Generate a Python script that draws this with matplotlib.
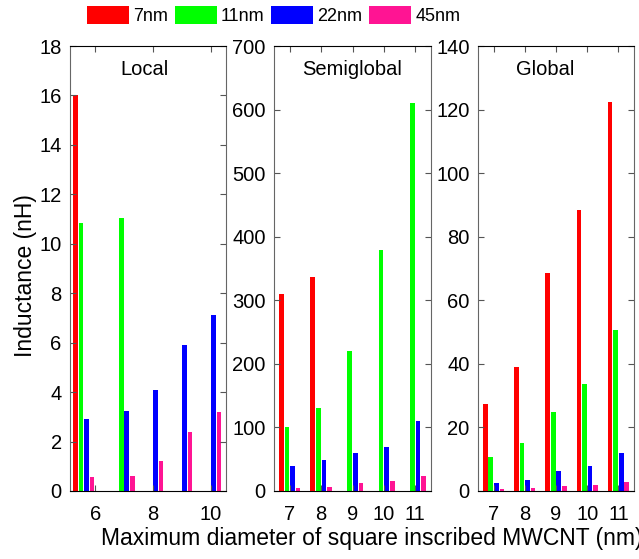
import numpy as np
import matplotlib.pyplot as plt
from matplotlib.patches import Patch

plt.rcParams['font.family'] = ['Liberation Sans', 'DejaVu Sans']

# technology nodes (legend) and their bar colours
nodes = ['7nm', '11nm', '22nm', '45nm']
colors = ['#FF0000', '#00FF00', '#0000FF', '#FF1493']

# local interconnect, inductance in nH
x_local = [5.6, 7, 8, 9, 10]
local_7nm = [16.0, 0, 0, 0, 0]
local_11nm = [10.85, 11.05, 0, 0, 0]
local_22nm = [2.93, 3.22, 4.1, 5.9, 7.1]
local_45nm = [0.56, 0.6, 1.2, 2.4, 3.2]

# semiglobal and global interconnect, inductance in nH
x_wide = [7, 8, 9, 10, 11]
semi_7nm = [310, 336, 0, 0, 0]
semi_11nm = [101, 130, 221, 379, 610]
semi_22nm = [40, 48, 59, 68.5, 110]
semi_45nm = [4.5, 6.5, 12.5, 16.5, 23]

glob_7nm = [27.3, 39, 68.6, 88.5, 122.5]
glob_11nm = [10.7, 15, 25, 33.8, 50.6]
glob_22nm = [2.6, 3.6, 6.4, 8.0, 12.1]
glob_45nm = [0.5, 0.85, 1.5, 1.9, 2.95]

W, H = 639, 559
fig = plt.figure(figsize=(W / 100, H / 100), dpi=100)

panels = [
    dict(rect=[70, 68, 156, 445], x=x_local,
         series=[local_7nm, local_11nm, local_22nm, local_45nm],
         xlim=(5.13, 10.53), ylim=(0, 18), yticks=np.arange(0, 19, 2),
         xticks=[6, 8, 10], step=0.19, width=0.16,
         title='Local', tx=0.478),
    dict(rect=[274, 68, 157, 445], x=x_wide,
         series=[semi_7nm, semi_11nm, semi_22nm, semi_45nm],
         xlim=(6.5, 11.5), ylim=(0, 700), yticks=np.arange(0, 701, 100),
         xticks=x_wide, step=0.178, width=0.15,
         title='Semiglobal', tx=0.5),
    dict(rect=[478, 68, 156, 445], x=x_wide,
         series=[glob_7nm, glob_11nm, glob_22nm, glob_45nm],
         xlim=(6.5, 11.5), ylim=(0, 140), yticks=np.arange(0, 141, 20),
         xticks=x_wide, step=0.178, width=0.15,
         title='Global', tx=0.43),
]

for p in panels:
    l, b, w, h = p['rect']
    ax = fig.add_axes([l / W, b / H, w / W, h / H])
    xs = np.array(p['x'], dtype=float)
    for i, (vals, c) in enumerate(zip(p['series'], colors)):
        ax.bar(xs + (i - 1.5) * p['step'], vals, width=p['width'],
               color=c, linewidth=0)
    ax.set_xlim(*p['xlim'])
    ax.set_ylim(*p['ylim'])
    ax.set_xticks(p['xticks'])
    ax.set_yticks(p['yticks'])
    ax.tick_params(direction='in', length=4, width=0.8, color='#555555',
                   top=True, right=True, labelsize=14.5)
    ax.tick_params(axis='x', pad=10)
    ax.tick_params(axis='y', pad=6)
    for side in ['left', 'right']:
        ax.spines[side].set_color('#666666')
    for side in ['top', 'bottom']:
        ax.spines[side].set_color('black')
    ax.text(p['tx'], 0.948, p['title'], transform=ax.transAxes,
            ha='center', va='center', fontsize=14.5)

handles = [Patch(facecolor=c, edgecolor='none') for c in colors]
fig.legend(handles, nodes, loc='center', bbox_to_anchor=(0.428, 0.972),
           ncol=4, frameon=False, fontsize=13, handlelength=2.33,
           handleheight=1.17, handletextpad=0.22, columnspacing=0.39,
           borderpad=0, borderaxespad=0)

fig.text(26 / W, 1 - 276 / H, 'Inductance (nH)', rotation=90,
         ha='center', va='center', fontsize=16.5)
fig.text(101 / W, 1 - 538 / H, 'Maximum diameter of square inscribed MWCNT (nm)',
         ha='left', va='center', fontsize=16.5)

plt.savefig('out.png', dpi=100)
plt.close()
